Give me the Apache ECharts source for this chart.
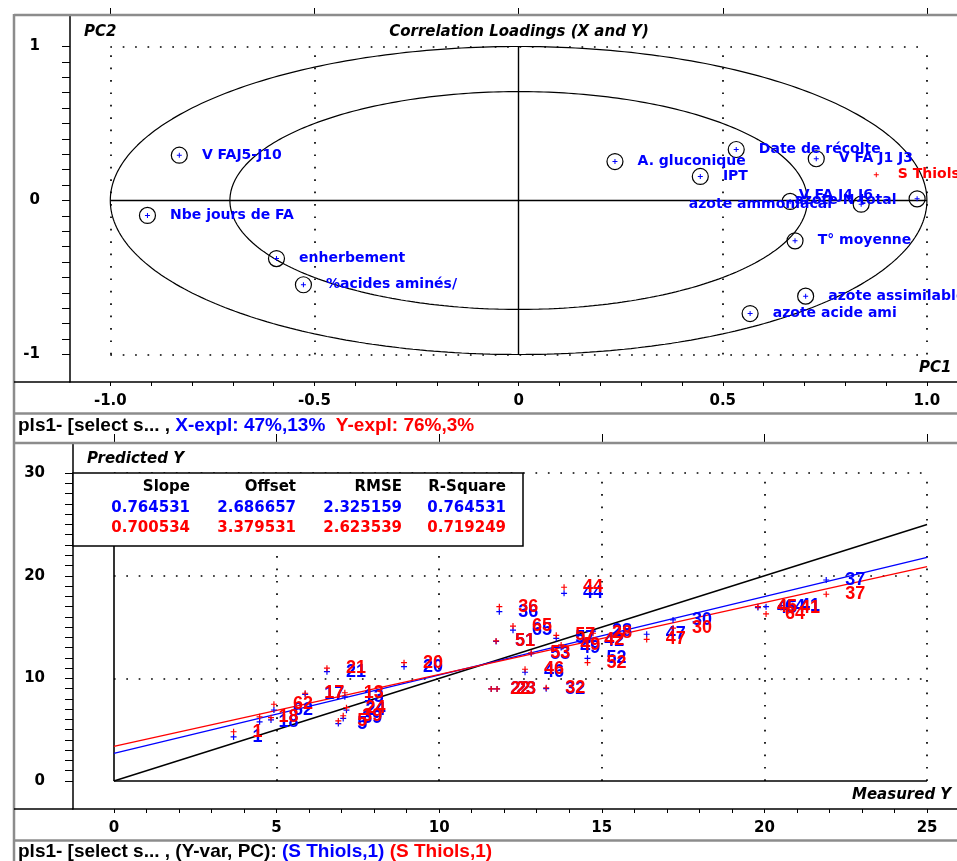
<!DOCTYPE html>
<html><head><meta charset="utf-8">
<script src="https://cdn.jsdelivr.net/npm/echarts@6/dist/echarts.min.js"></script>
<style>html,body{margin:0;padding:0;background:#fff}#c{width:957px;height:861px}</style>
</head><body><div id="c"></div>
<script>
// ---------- Top panel: correlation loadings ----------
const loadNames = ['V FAJ5-J10','Nbe jours de FA','enherbement','%acides aminés/','A. gluconique','Date de récolte','IPT','V FA J1 J3','V FA J4 J6','azote ammoniacal','azote N total','T° moyenne','azote assimilable','azote acide ami'];
const loadPC1 = [-0.831,-0.909,-0.593,-0.527,0.236,0.533,0.445,0.729,0.665,0.839,0.976,0.677,0.703,0.567];
const loadPC2 = [0.294,-0.097,-0.377,-0.547,0.253,0.331,0.156,0.271,-0.006,-0.024,0.011,-0.262,-0.621,-0.734];
const yVarName = 'S Thiols';
const yVarPC1 = 0.876;
const yVarPC2 = 0.167;
const topXLabels = [-1, -0.5, 0, 0.5, 1];
const topYLabels = [-1, 0, 1];
const explX = 'X-expl: 47%,13%';
const explY = 'Y-expl: 76%,3%';

// ---------- Bottom panel: predicted vs measured ----------
const sampleIds = ['1','18','16','62','17','21','5','39','24','13','20','36','65','51','22','23','46','32','53','57','49','44','52','42','28','47','30','45','64','41','37'];
const measured  = [3.68,4.48,4.83,4.92,5.88,6.55,6.9,7.05,7.15,7.1,8.92,11.85,12.27,11.75,11.6,11.78,12.64,13.29,12.83,13.6,13.75,13.84,14.56,14.49,14.73,16.38,17.19,19.8,20.05,20.51,21.9];
const predCal   = [4.3,5.77,5.95,6.92,8.45,10.65,5.6,6.1,6.9,8.2,11.14,16.5,14.7,13.6,8.97,8.97,10.6,9.0,12.4,13.9,13.0,18.29,11.96,13.6,14.6,14.3,15.7,16.9,16.99,17.1,19.59];
const predVal   = [4.8,6.25,6.17,7.48,8.55,11.0,5.85,6.36,7.15,8.6,11.53,16.99,15.1,13.65,8.97,8.97,10.89,9.09,12.48,14.2,13.26,18.88,11.53,13.74,14.4,13.8,14.9,16.99,16.28,16.9,18.2];
const tableHead = ['Slope','Offset','RMSE','R-Square'];
const statsCal  = [0.764531, 2.686657, 2.325159, 0.764531];
const statsVal  = [0.700534, 3.379531, 2.623539, 0.719249];
const botXLabels = [0,5,10,15,20,25];
const botYLabels = [0,10,20,30];
const yVarPC = '(S Thiols,1)';
const hiddenSampleLabels = ['16'];

// ---------- helpers (geometry / ticks, not data) ----------
const range = (a,b,s)=>{const r=[];for(let i=Math.round(a/s);i<=Math.round(b/s);i++)r.push(+(i*s).toFixed(6));return r;};
const circle = (r,n)=>Array.from({length:n+1},(_,i)=>[r*Math.cos(2*Math.PI*i/n), r*Math.sin(2*Math.PI*i/n)]);
const PLUS = 'path://M2.4,0H3.6V2.4H6V3.6H3.6V6H2.4V3.6H0V2.4H2.4Z';
const F = 'DejaVu Sans';
const BLUE = '#0000ff', RED = '#ff0000';
const dotted = {color:'#000', width:1.7, type:[1.7,10.7], opacity:1};

const labelTweak = {
  'V FA J4 J6': {offset:[-14,-6]},
  'azote ammoniacal': {offset:[-195,0]},
  'azote N total': {position:'left', distance:12, offset:[0,2]}
};

const axisLabelStyle = {color:'#000', fontFamily:F, fontWeight:'bold', fontSize:15};
function valAxis(o){
  return Object.assign({type:'value', splitLine:{show:false}, axisLine:{onZero:false, lineStyle:{color:'#000', width:1.5}}}, o);
}

const option = {
  animation:false,
  backgroundColor:'#fff',
  grid:[
    {left:70, top:15, width:887, height:367},
    {left:73, top:443, width:884, height:366}
  ],
  xAxis:[
    valAxis({gridIndex:0, min:-1.0987, max:1.0737,
      axisTick:{customValues:range(-1,1,0.1), length:4, lineStyle:{color:'#000'}},
      axisLabel:Object.assign({customValues:topXLabels, margin:12, formatter:v=>v===0?'0':v.toFixed(1)}, axisLabelStyle)}),
    valAxis({gridIndex:0, min:-1.0987, max:1.0737, axisLine:{show:false, onZero:false},
      axisTick:{customValues:topXLabels, length:7, lineStyle:{color:'#000'}}, axisLabel:{show:false}}),
    valAxis({gridIndex:1, min:-1.257, max:25.92,
      axisTick:{customValues:range(0,25,1), length:4, lineStyle:{color:'#000'}},
      axisLabel:Object.assign({customValues:botXLabels, margin:12}, axisLabelStyle)}),
    valAxis({gridIndex:1, min:-1.257, max:25.92, axisLine:{show:false, onZero:false},
      axisTick:{customValues:botXLabels, length:9, lineStyle:{color:'#000'}}, axisLabel:{show:false}})
  ],
  yAxis:[
    valAxis({gridIndex:0, min:-1.1786, max:1.2045,
      axisTick:{customValues:range(-1,1,0.1), length:8, lineStyle:{color:'#000'}},
      axisLabel:Object.assign({customValues:topYLabels, margin:30}, axisLabelStyle)}),
    valAxis({gridIndex:0, min:-1.1786, max:1.2045, axisLine:{show:false, onZero:false},
      axisTick:{customValues:topYLabels, length:18, lineStyle:{color:'#000'}}, axisLabel:{show:false}}),
    valAxis({gridIndex:1, min:-2.729, max:32.94,
      axisTick:{customValues:range(0,30,1), length:8, lineStyle:{color:'#000'}},
      axisLabel:Object.assign({customValues:botYLabels, margin:28}, axisLabelStyle)}),
    valAxis({gridIndex:1, min:-2.729, max:32.94, axisLine:{show:false, onZero:false},
      axisTick:{customValues:botYLabels, length:20, lineStyle:{color:'#000'}}, axisLabel:{show:false}})
  ],
  series:[]
};

const S = option.series;
// top panel guides
const tb = topXLabels[0], te = topXLabels[topXLabels.length-1];
S.push({type:'lines', coordinateSystem:'cartesian2d', xAxisIndex:0, yAxisIndex:0, silent:true, z:1,
  lineStyle:dotted,
  data:[...topXLabels.filter(v=>v!==0).map(v=>({coords:[[v,tb],[v,te]]})),
        ...[tb,te].map(v=>({coords:[[tb,v],[te,v]]}))]});
S.push({type:'lines', coordinateSystem:'cartesian2d', xAxisIndex:0, yAxisIndex:0, silent:true, z:2,
  lineStyle:{color:'#000', width:1.4, opacity:1},
  data:[{coords:[[0,tb],[0,te]]},{coords:[[tb,0],[te,0]]}]});
[1, Math.SQRT1_2].forEach(r=>S.push({type:'line', xAxisIndex:0, yAxisIndex:0, data:circle(r,360), showSymbol:false, symbol:'none', silent:true, z:2,
  lineStyle:{color:'#000', width:1.2}}));
// loadings
const loadData = loadNames.map((n,i)=>{
  const d = {name:n, value:[loadPC1[i], loadPC2[i]]};
  if(labelTweak[n]) d.label = labelTweak[n];
  return d;
});
S.push({type:'scatter', xAxisIndex:0, yAxisIndex:0, symbol:'circle', symbolSize:16, z:3, silent:true,
  itemStyle:{color:'rgba(0,0,0,0)', borderColor:'#000', borderWidth:1.2, opacity:1},
  label:{show:true, position:'right', distance:14, formatter:p=>p.name, color:BLUE, opacity:1, fontFamily:F, fontWeight:'bold', fontSize:14},
  data:loadData});
S.push({type:'scatter', xAxisIndex:0, yAxisIndex:0, symbol:PLUS, symbolSize:5, z:4, silent:true,
  itemStyle:{color:BLUE, opacity:1}, data:loadNames.map((n,i)=>[loadPC1[i], loadPC2[i]])});
S.push({type:'scatter', xAxisIndex:0, yAxisIndex:0, symbol:PLUS, symbolSize:5, z:4, silent:true,
  itemStyle:{color:RED, opacity:1},
  label:{show:true, position:'right', distance:19, formatter:()=>yVarName, color:RED, opacity:1, fontFamily:F, fontWeight:'bold', fontSize:14},
  data:[[yVarPC1, yVarPC2]]});

// bottom panel guides
const bb = botXLabels[0], be = botXLabels[botXLabels.length-1], bt = botYLabels[botYLabels.length-1];
S.push({type:'lines', coordinateSystem:'cartesian2d', xAxisIndex:2, yAxisIndex:2, silent:true, z:1,
  lineStyle:dotted,
  data:[...botXLabels.filter(v=>v!==0).map(v=>({coords:[[v,0],[v,bt]]})),
        ...botYLabels.filter(v=>v!==0).map(v=>({coords:[[bb,v],[be,v]]}))]});
S.push({type:'lines', coordinateSystem:'cartesian2d', xAxisIndex:2, yAxisIndex:2, silent:true, z:2,
  lineStyle:{color:'#000', width:1.6, opacity:1},
  data:[{coords:[[0,0],[0,bt]]},{coords:[[0,0],[be,0]]}]});
// target & regression lines
S.push({type:'line', xAxisIndex:2, yAxisIndex:2, symbol:'none', silent:true, z:3, lineStyle:{color:'#000', width:1.4},
  data:[[bb,bb],[be,be]]});
S.push({type:'line', xAxisIndex:2, yAxisIndex:2, symbol:'none', silent:true, z:3, lineStyle:{color:BLUE, width:1.4},
  data:[[bb, statsCal[1]+statsCal[0]*bb],[be, statsCal[1]+statsCal[0]*be]]});
S.push({type:'line', xAxisIndex:2, yAxisIndex:2, symbol:'none', silent:true, z:3, lineStyle:{color:RED, width:1.4},
  data:[[bb, statsVal[1]+statsVal[0]*bb],[be, statsVal[1]+statsVal[0]*be]]});
const sampleLabel = c=>({show:true, position:'right', distance:16, formatter:p=>p.name, color:c, opacity:1, fontFamily:'Liberation Sans', fontWeight:'bold', fontSize:18});
const sampleData = vals=>sampleIds.map((id,i)=>{
  const d = {name:id, value:[measured[i], vals[i]]};
  if(hiddenSampleLabels.includes(id)) d.label = {show:false};
  return d;
});
S.push({type:'scatter', xAxisIndex:2, yAxisIndex:2, symbol:PLUS, symbolSize:6, z:4, silent:true, itemStyle:{color:BLUE, opacity:1},
  label:sampleLabel(BLUE), data:sampleData(predCal)});
S.push({type:'scatter', xAxisIndex:2, yAxisIndex:2, symbol:PLUS, symbolSize:6, z:5, silent:true, itemStyle:{color:RED, opacity:1},
  label:sampleLabel(RED), data:sampleData(predVal)});

// ---------- graphic: window frame, titles, table, status bars ----------
const G = [];
const gray = '#8c8c8c';
const line = (x1,y1,x2,y2,c,w)=>G.push({type:'line', silent:true, z:50, shape:{x1,y1,x2,y2}, style:{stroke:c, lineWidth:w}});
line(14,15,957,15,gray,2.5);
line(14,14,14,861,gray,2.5);
line(14,382,70,382,'#000',1.5);
line(14,413.5,957,413.5,gray,2.5);
line(14,443,957,443,gray,2.5);
line(14,809,73,809,'#000',1.5);
line(14,840.5,957,840.5,gray,2.5);
const txt = (x,y,t,o)=>G.push({type:'text', silent:true, z:60, x, y, style:Object.assign({text:t, fill:'#000', verticalAlign:'middle', textAlign:'left', font:'italic bold 15px "'+F+'"'}, o||{})});
txt(84,32,'PC2');
txt(519,32,'Correlation Loadings (X and Y)',{textAlign:'center'});
txt(919,368,'PC1');
txt(87,459,'Predicted Y');
txt(852,795,'Measured Y');
// table
G.push({type:'rect', silent:true, z:55, shape:{x:73, y:473, width:450, height:73}, style:{fill:'#fff', stroke:'#000', lineWidth:1.5}});
const colR = [190,296,402,506];
tableHead.forEach((h,i)=>{
  txt(colR[i],487,h,{textAlign:'right', font:'bold 15px "'+F+'"'});
  txt(colR[i],508,statsCal[i].toFixed(6),{textAlign:'right', fill:BLUE, font:'bold 15px "'+F+'"'});
  txt(colR[i],528,statsVal[i].toFixed(6),{textAlign:'right', fill:RED, font:'bold 15px "'+F+'"'});
});
// status bars
const sf = 'bold 19px "Liberation Sans"';
G.push({type:'text', silent:true, z:60, x:18, y:426, style:{text:'{k|pls1- [select s... , }{b|'+explX+'}  {r|'+explY+'}', verticalAlign:'middle', font:sf,
  rich:{k:{fill:'#000', font:sf}, b:{fill:BLUE, font:sf}, r:{fill:RED, font:sf}}}});
G.push({type:'text', silent:true, z:60, x:18, y:852, style:{text:'{k|pls1- [select s... , (Y-var, PC): }{b|'+yVarPC+'} {r|'+yVarPC+'}', verticalAlign:'middle', font:sf,
  rich:{k:{fill:'#000', font:sf}, b:{fill:BLUE, font:sf}, r:{fill:RED, font:sf}}}});
option.graphic = G;

const chart = echarts.init(document.getElementById('c'), null, {renderer:'canvas'});
chart.setOption(option);
</script></body></html>
